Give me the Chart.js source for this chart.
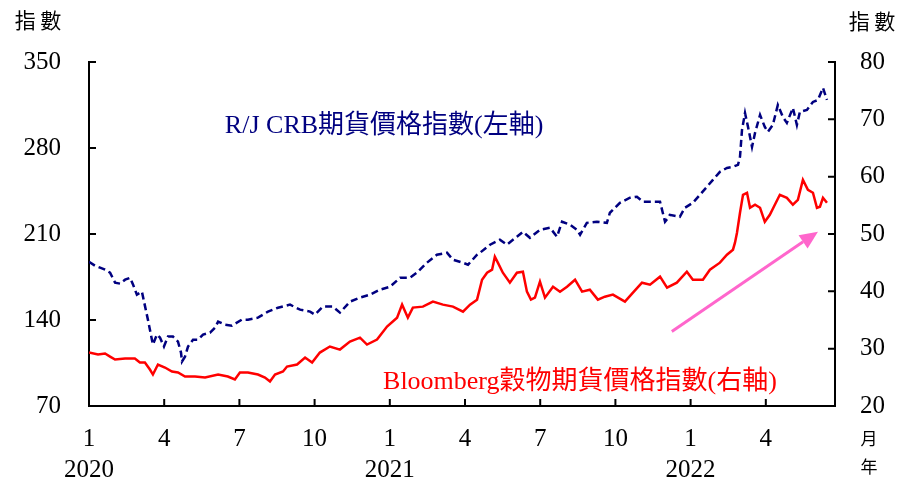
<!DOCTYPE html>
<html>
<head>
<meta charset="utf-8">
<script src="https://cdn.jsdelivr.net/npm/chart.js@4"></script>
<style>
  body { margin: 0; background: #fff; }
</style>
</head>
<body>
<canvas id="chart" width="901" height="477"></canvas>
<script>
// months since Jan 2020 (0 = 1 Jan 2020)
const crbMonths = [0, 0.24, 0.44, 0.64, 0.84, 1.04, 1.24, 1.44, 1.64, 1.76, 1.91, 2.11, 2.23, 2.35, 2.51, 2.55, 2.71, 2.83, 2.99, 3.15,
  3.35, 3.55, 3.67, 3.71, 3.83, 3.95, 4.15, 4.35, 4.55, 4.83, 5.03, 5.15, 5.42, 5.70, 6.10, 6.34, 6.74, 7.14, 7.54, 8.02,
  8.42, 8.82, 9.01, 9.33, 9.73, 10.01, 10.41, 10.81, 11.21, 11.61, 12.01, 12.41, 12.80, 13.08, 13.48, 13.88, 14.28, 14.52, 14.92, 15.12,
  15.48, 15.60, 16.00, 16.39, 16.67, 17.07, 17.31, 17.59, 17.99, 18.39, 18.67, 18.87, 19.19, 19.47, 19.59, 19.86, 20.26, 20.66, 20.78, 21.18,
  21.58, 21.86, 22.10, 22.46, 22.78, 22.98, 23.10, 23.17, 23.57, 23.77, 24.09, 24.37, 24.65, 24.89, 25.17, 25.45, 25.69, 25.89, 25.97, 26.05,
  26.17, 26.29, 26.45, 26.57, 26.77, 26.96, 27.08, 27.28, 27.48, 27.68, 27.84, 28.08, 28.24, 28.36, 28.64, 28.88, 29.08, 29.28, 29.44];
const crbValues = [187.4, 184.2, 182.6, 181.0, 178.5, 170.4, 169.6, 172.8, 174.4, 168.7, 160.6, 163.1, 151.7, 140.3, 124.0, 120.0, 128.1, 125.7, 118.4, 126.5,
  126.5, 122.4, 113.5, 106.2, 110.2, 118.4, 124.0, 124.0, 128.1, 129.7, 133.8, 138.7, 136.2, 135.4, 140.3, 140.3, 141.9, 146.8, 150.0, 152.5,
  148.4, 146.8, 144.4, 150.9, 150.9, 146.0, 154.9, 158.2, 160.6, 164.7, 167.1, 174.4, 174.4, 178.5, 186.6, 193.1, 194.8, 189.1, 186.6, 185.0,
  193.1, 194.8, 201.3, 205.3, 201.3, 207.8, 211.8, 206.9, 213.4, 215.1, 207.8, 220.0, 217.5, 213.4, 209.4, 219.1, 220.0, 219.1, 227.3, 235.4,
  239.5, 240.3, 236.2, 236.2, 236.2, 220.0, 223.2, 225.6, 224.0, 231.3, 235.4, 241.9, 248.4, 254.1, 260.6, 263.8, 264.7, 266.3, 272.8, 294.7,
  308.5, 297.2, 280.9, 292.3, 306.9, 297.2, 293.1, 298.8, 315.0, 305.3, 300.4, 312.6, 298.8, 309.4, 311.0, 317.5, 319.1, 328.9, 319.1];

const grainMonths = [0, 0.36, 0.64, 0.84, 1.04, 1.44, 1.83, 2.03, 2.23, 2.43, 2.55, 2.75, 3.03, 3.31, 3.55, 3.83, 4.23, 4.63, 5.15, 5.54,
  5.82, 6.02, 6.34, 6.74, 7.02, 7.22, 7.42, 7.74, 7.90, 8.30, 8.62, 8.90, 9.21, 9.61, 10.01, 10.41, 10.81, 11.09, 11.49, 11.89,
  12.29, 12.49, 12.72, 12.92, 13.32, 13.72, 14.12, 14.52, 14.92, 15.20, 15.48, 15.68, 15.88, 16.08, 16.19, 16.31, 16.51, 16.79, 17.07, 17.31,
  17.47, 17.63, 17.79, 17.99, 18.19, 18.51, 18.79, 19.07, 19.39, 19.67, 19.98, 20.30, 20.58, 20.90, 21.38, 21.70, 22.06, 22.38, 22.78, 23.06,
  23.45, 23.85, 24.09, 24.49, 24.77, 25.17, 25.45, 25.69, 25.77, 25.85, 25.97, 26.09, 26.25, 26.37, 26.57, 26.77, 26.96, 27.16, 27.36, 27.56,
  27.84, 28.08, 28.28, 28.48, 28.68, 28.88, 29.04, 29.16, 29.28, 29.44];
const grainValues = [29.32, 28.97, 29.15, 28.62, 28.10, 28.27, 28.27, 27.58, 27.58, 26.36, 25.49, 27.23, 26.71, 26.01, 25.84, 25.14, 25.14, 24.97, 25.49, 25.14,
  24.62, 25.84, 25.84, 25.49, 24.97, 24.27, 25.49, 26.01, 26.88, 27.23, 28.45, 27.58, 29.32, 30.37, 29.84, 31.24, 31.93, 30.71, 31.58, 33.85,
  35.41, 37.68, 35.41, 37.16, 37.33, 38.20, 37.68, 37.33, 36.46, 37.68, 38.55, 42.03, 43.25, 43.78, 46.04, 45.00, 43.25, 41.51, 43.25, 43.43,
  39.94, 38.55, 38.90, 41.68, 38.90, 40.81, 39.94, 40.81, 42.03, 39.94, 40.29, 38.55, 39.07, 39.42, 38.20, 39.77, 41.51, 41.16, 42.56, 40.64,
  41.51, 43.43, 42.03, 42.03, 43.78, 45.00, 46.39, 47.26, 48.48, 50.22, 53.70, 56.84, 57.19, 54.57, 55.10, 54.57, 52.13, 53.35, 55.10, 56.84,
  56.31, 55.10, 55.97, 59.45, 57.71, 57.19, 54.57, 54.75, 56.31, 55.44];

const tickMonths = [0, 3, 6, 9, 12, 15, 18, 21, 24, 27];
const monthLabels = ['1', '4', '7', '10', '1', '4', '7', '10', '1', '4'];
const yearLabels = ['2020', '', '', '', '2021', '', '', '', '2022', ''];

const crbLabel = 'R/J CRB期貨價格指數(左軸)';
const grainLabel = 'Bloomberg穀物期貨價格指數(右軸)';

const FONT = '"Liberation Serif", "Times New Roman", "Noto Sans CJK TC", serif';
const CJK = '"Noto Sans CJK TC", sans-serif';

const toPoints = (xs, ys) => xs.map((x, i) => ({ x: x, y: ys[i] }));

// ticks point inward, labels and arrow drawn on top
const extras = {
  id: 'extras',
  afterDraw(chart) {
    const c = chart.ctx;
    const { x, yL, yR } = chart.scales;
    const area = chart.chartArea;
    c.save();
    c.strokeStyle = '#000';
    c.lineWidth = 2;
    c.beginPath();
    tickMonths.forEach(m => {
      const px = x.getPixelForValue(m);
      c.moveTo(px, area.bottom);
      c.lineTo(px, area.bottom - 7);
    });
    yL.ticks.forEach(t => {
      const py = yL.getPixelForValue(t.value);
      c.moveTo(area.left, py);
      c.lineTo(area.left + 7, py);
    });
    yR.ticks.forEach(t => {
      const py = yR.getPixelForValue(t.value);
      c.moveTo(area.right, py);
      c.lineTo(area.right - 7, py);
    });
    c.stroke();

    // series labels
    c.textBaseline = 'middle';
    c.textAlign = 'left';
    c.font = '26px ' + FONT;
    c.fillStyle = '#000080';
    c.fillText(crbLabel, x.getPixelForValue(5.42), yL.getPixelForValue(298));
    c.fillStyle = '#ff0000';
    c.fillText(grainLabel, x.getPixelForValue(11.73), yR.getPixelForValue(24.1));

    // axis units
    c.fillStyle = '#000';
    c.textAlign = 'center';
    c.font = '21px ' + CJK;
    c.fillText('指 數', 38, 20);
    c.fillText('指 數', 872, 21);
    c.font = '17px ' + CJK;
    c.fillText('月', 869, 439);
    c.fillText('年', 869, 467);

    // arrow
    const x0 = x.getPixelForValue(23.25), y0 = yR.getPixelForValue(32.98);
    const x1 = x.getPixelForValue(29.08), y1 = yR.getPixelForValue(50.4);
    const ang = Math.atan2(y1 - y0, x1 - x0);
    const head = 18, half = 8;
    const bx = x1 - head * Math.cos(ang), by = y1 - head * Math.sin(ang);
    c.strokeStyle = '#ff66cc';
    c.fillStyle = '#ff66cc';
    c.lineWidth = 3;
    c.beginPath();
    c.moveTo(x0, y0);
    c.lineTo(bx, by);
    c.stroke();
    c.beginPath();
    c.moveTo(x1, y1);
    c.lineTo(bx + half * Math.sin(ang), by - half * Math.cos(ang));
    c.lineTo(bx - half * Math.sin(ang), by + half * Math.cos(ang));
    c.closePath();
    c.fill();
    c.restore();
  }
};

const config = {
  type: 'line',
  data: {
    datasets: [
      {
        label: crbLabel,
        data: toPoints(crbMonths, crbValues),
        yAxisID: 'yL',
        borderColor: '#000080',
        borderWidth: 2.5,
        borderDash: [7, 4],
        pointRadius: 0,
        tension: 0
      },
      {
        label: grainLabel,
        data: toPoints(grainMonths, grainValues),
        yAxisID: 'yR',
        borderColor: '#ff0000',
        borderWidth: 2.5,
        pointRadius: 0,
        tension: 0
      }
    ]
  },
  options: {
    responsive: false,
    animation: false,
    layout: { padding: { top: 62, left: 0, right: 0, bottom: 0 } },
    plugins: { legend: { display: false }, tooltip: { enabled: false } },
    scales: {
      x: {
        type: 'linear',
        min: 0,
        max: 29.76,
        afterBuildTicks: s => { s.ticks = tickMonths.map(v => ({ value: v })); },
        afterFit: s => { s.height = 71; },
        grid: { display: false, drawTicks: false },
        border: { display: true, color: '#000', width: 2 },
        ticks: {
          color: '#000',
          padding: 18,
          maxRotation: 0,
          autoSkip: false,
          font: { family: FONT, size: 25, lineHeight: 1.24 },
          callback: v => {
            const i = tickMonths.indexOf(v);
            if (i < 0) return '';
            return yearLabels[i] ? [monthLabels[i], yearLabels[i]] : monthLabels[i];
          }
        }
      },
      yL: {
        position: 'left',
        min: 70,
        max: 350,
        afterFit: s => { s.width = 89; },
        grid: { display: false, drawTicks: false },
        border: { display: true, color: '#000', width: 2 },
        ticks: { stepSize: 70, color: '#000', padding: 28, font: { family: FONT, size: 25 } }
      },
      yR: {
        position: 'right',
        min: 20,
        max: 80,
        afterFit: s => { s.width = 66; },
        grid: { display: false, drawTicks: false },
        border: { display: true, color: '#000', width: 2 },
        ticks: { stepSize: 10, color: '#000', padding: 25, font: { family: FONT, size: 25 } }
      }
    }
  },
  plugins: [extras]
};

const myChart = new Chart(document.getElementById('chart').getContext('2d'), config);
</script>
</body>
</html>
